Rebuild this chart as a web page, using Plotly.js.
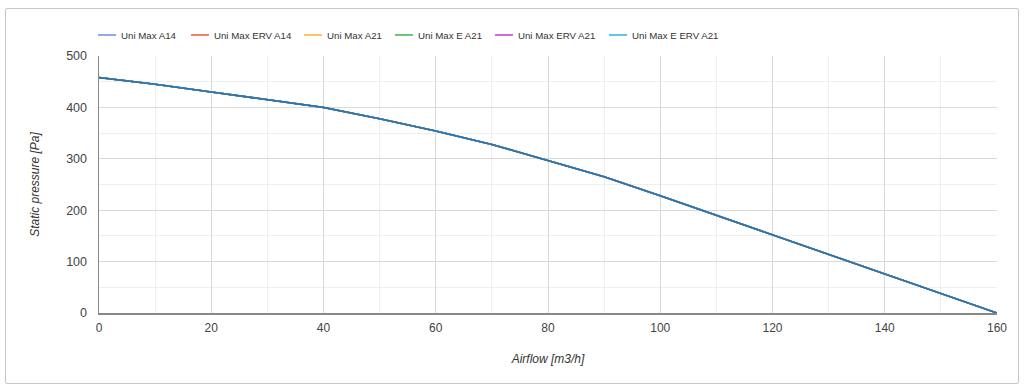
<!DOCTYPE html>
<html>
<head>
<meta charset="utf-8">
<script src="https://cdn.plot.ly/plotly-3.0.1.min.js"></script>
<style>
html,body{margin:0;padding:0;background:#fff;}
#wrap{position:absolute;left:5px;top:8px;width:1012px;height:374px;border:1px solid #c3c7d1;border-radius:2px;}
#chart{position:absolute;left:0;top:0;width:1026px;height:389px;}
</style>
</head>
<body>
<div id="wrap"></div>
<div id="chart"></div>
<script>
const seriesNames = ["Uni Max A14","Uni Max ERV A14","Uni Max A21","Uni Max E A21","Uni Max ERV A21","Uni Max E ERV A21"];
const seriesColors = ["#6a8ee0","#ec5b3a","#ffb02e","#3db54a","#c03cc8","#2fb1e2"];
const airflow = [0,10,20,30,40,50,60,70,80,90,100,110,120,130,140,150,160];
const pressure = [458,445,430,415,400,378,354,328,297,265,228,190,152,114,76,38,0];

// legend entry anchor positions (paper fraction)
const legendX = [-0.020, 0.0835, 0.2094, 0.3107, 0.4220, 0.5490];

const traces = seriesNames.map((n,i)=>({
  type:"scatter", mode:"lines", name:n, x:airflow, y:pressure,
  legend: i===0 ? "legend" : "legend"+(i+1),
  line:{color:seriesColors[i], width:1.5}
}));
// visible overlapped curve color
traces.push({type:"scatter",mode:"lines",x:airflow,y:pressure,showlegend:false,hoverinfo:"skip",line:{color:"#2d74aa",width:1.6}});

const layout = {
  width:1026, height:389,
  paper_bgcolor:"rgba(0,0,0,0)", plot_bgcolor:"#fff",
  margin:{l:99,r:29,t:56,b:76},
  font:{family:"Arial, Liberation Sans, sans-serif", size:12, color:"#444"},
  showlegend:true,
  xaxis:{range:[0,160], tickvals:[0,20,40,60,80,100,120,140,160], showgrid:true, gridcolor:"#d9d9d9", gridwidth:1,
    minor:{dtick:10, showgrid:true, gridcolor:"#efefef", gridwidth:1},
    zeroline:false, showline:true, linecolor:"#888", linewidth:1.5, ticks:"", ticklen:0, ticklabelstandoff:3,
    tickfont:{size:12,color:"#444"},
    title:{text:"Airflow [m3/h]", font:{size:12,color:"#333"}, standoff:20}},
  yaxis:{range:[0,500], dtick:100, showgrid:true, gridcolor:"#d9d9d9", gridwidth:1,
    minor:{dtick:50, showgrid:true, gridcolor:"#efefef", gridwidth:1},
    zeroline:false, showline:true, linecolor:"#888", linewidth:1.5, ticks:"", ticklabelstandoff:8,
    tickfont:{size:12.5,color:"#444"},
    title:{text:"Static pressure [Pa]", font:{size:12,color:"#333"}, standoff:24}}
};
legendX.forEach((lx,i)=>{
  layout[i===0?"legend":"legend"+(i+1)] = {orientation:"h", x:lx, xanchor:"left", y:1.082, yanchor:"middle",
    font:{size:9.7,color:"#333"}, itemwidth:30, bgcolor:"rgba(0,0,0,0)"};
});
Plotly.newPlot("chart", traces, layout, {displayModeBar:false, staticPlot:true}).then(()=>{
  document.querySelectorAll('.g-xtitle text, .g-ytitle text').forEach(t=>t.style.fontStyle='italic');
  // shorter legend line samples, as in the reference
  document.querySelectorAll('.legendlines path').forEach(p=>{p.style.strokeDasharray='0 12 19 100';});
});
</script>
</body>
</html>
